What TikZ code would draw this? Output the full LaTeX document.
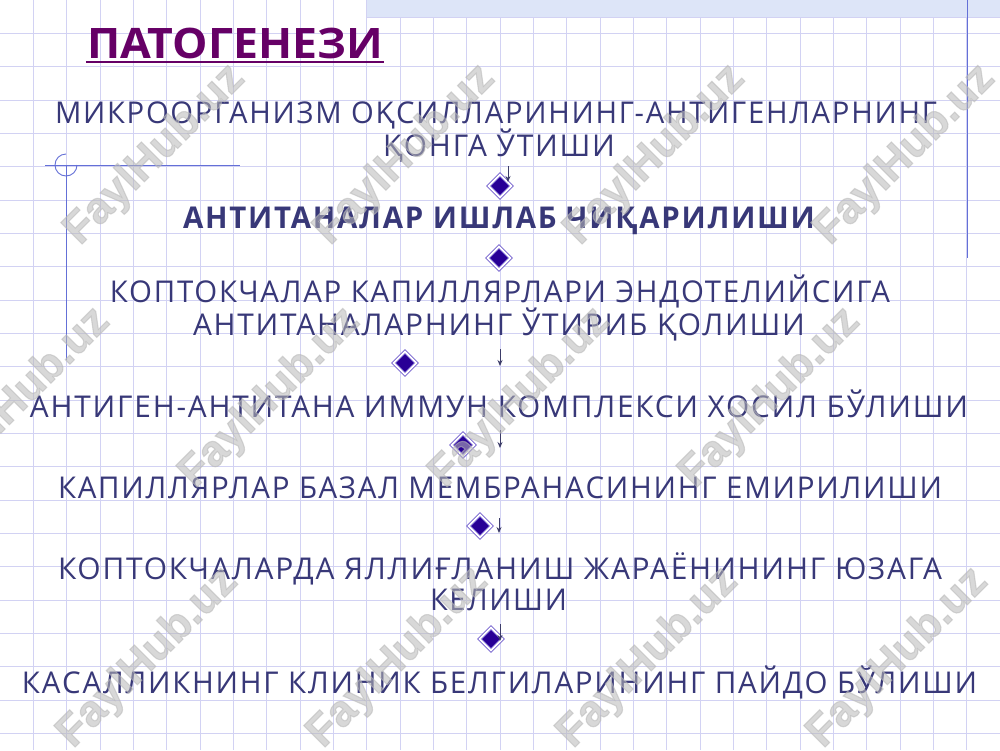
\documentclass[tikz,border=0pt]{standalone}
\usepackage{fontspec}
\usepackage{graphicx}
\usetikzlibrary{arrows.meta,shapes.geometric}
\setmainfont{Open Sans}
\newfontfamily\bodyf{Open Sans}[LetterSpace=6]
\newfontfamily\titf{Open Sans}
\newfontfamily\wmf{Liberation Sans Bold}[FakeBold=2.5]
\definecolor{textc}{RGB}{56,56,120}
\definecolor{titlec}{RGB}{102,0,102}
\definecolor{gridc}{RGB}{210,210,243}
\definecolor{bluel}{RGB}{100,112,215}
\definecolor{bandc}{RGB}{221,229,248}
\definecolor{bulfill}{RGB}{40,0,150}
\definecolor{bulborder}{RGB}{115,95,205}
\definecolor{arrc}{RGB}{60,60,105}
\definecolor{wmc}{RGB}{185,185,185}
\newsavebox\fitbox
\newcommand\fitto[2]{\sbox\fitbox{#2}\scalebox{\fpeval{#1*65536/\number\wd\fitbox}}[1]{\usebox\fitbox}}
\begin{document}
\begin{tikzpicture}[x=1pt,y=-1pt,
  txt/.style={anchor=base, inner sep=0pt, text=textc, font=\bodyf\fontsize{30}{36}\selectfont},
  btxt/.style={txt, font=\bodyf\bfseries\fontsize{30}{36}\selectfont},
  ttl/.style={anchor=base, inner sep=0pt, text=titlec, font=\titf\bfseries\fontsize{42}{48}\selectfont},
  bul/.style={diamond, draw=bulborder, line width=0.9pt, double=white, double distance=1.8pt, fill=bulfill, minimum width=23pt, minimum height=23pt, inner sep=0pt},
  arr/.style={draw=arrc, line width=0.9pt, -{Stealth[length=6pt,width=5pt]}},
  gridl/.style={draw=gridc, line width=1pt},
  decl/.style={draw=bluel, line width=0.9pt},
  wm/.style={text=wmc, opacity=0.55, rotate=45, inner sep=0pt, font=\wmf\fontsize{44}{44}\selectfont}]
\useasboundingbox (0,0) rectangle (1000,750);
\fill[white] (0,0) rectangle (1000,750);
% grid
\foreach \i in {1,...,29} \draw[gridl] (\i*33.3333,0) -- (\i*33.3333,750);
\foreach \j in {1,...,22} \draw[gridl] (0,\j*33.3333) -- (1000,\j*33.3333);
% top band
\fill[bandc] (367,0) rectangle (1000,17);
\draw[gridl] (367,17) -- (1000,17);
% decorative lines
\draw[decl] (967,0) -- (967,258);
\draw[decl] (45,165) -- (240,165);
\draw[decl] (66,165) -- (66,360);
\draw[decl] (66,154) arc[start angle=-90, end angle=-360, radius=11];
% title
\node[ttl] (t0) at (235,58) {\fitto{296}{ПАТОГЕНЕЗИ}};
\draw[titlec, line width=2.7pt] (t0.base west) ++(-1,4) -- ++(298,0);
% steps
\node[txt] (s1a) at (496,123) {\fitto{882}{МИКРООРГАНИЗМ ОҚСИЛЛАРИНИНГ-АНТИГЕНЛАРНИНГ}};
\node[txt] (s1b) at (499,156) {\fitto{232}{ҚОНГА ЎТИШИ}};
\node[btxt] (s2) at (499,228) {\fitto{632}{АНТИТАНАЛАР ИШЛАБ ЧИҚАРИЛИШИ}};
\node[txt] (s3a) at (500,302) {\fitto{780}{КОПТОКЧАЛАР КАПИЛЛЯРЛАРИ ЭНДОТЕЛИЙСИГА}};
\node[txt] (s3b) at (499,335) {\fitto{612}{АНТИТАНАЛАРНИНГ ЎТИРИБ ҚОЛИШИ}};
\node[txt] (s4) at (499,417) {\fitto{938}{АНТИГЕН-АНТИТАНА ИММУН КОМПЛЕКСИ ХОСИЛ БЎЛИШИ}};
\node[txt] (s5) at (500,498) {\fitto{884}{КАПИЛЛЯРЛАР БАЗАЛ МЕМБРАНАСИНИНГ ЕМИРИЛИШИ}};
\node[txt] (s6a) at (500,579) {\fitto{884}{КОПТОКЧАЛАРДА ЯЛЛИҒЛАНИШ ЖАРАЁНИНИНГ ЮЗАГА}};
\node[txt] (s6b) at (498.5,610) {\fitto{137}{КЕЛИШИ}};
\node[txt] (s7) at (499.5,693) {\fitto{955}{КАСАЛЛИКНИНГ КЛИНИК БЕЛГИЛАРИНИНГ ПАЙДО БЎЛИШИ}};
% bullets
\node[bul] (d1) at (500,186) {};
\node[bul] (d2) at (499,258) {};
\node[bul] (d3) at (405,363) {};
\node[bul] (d4) at (463,445) {};
\node[bul] (d5) at (480,526) {};
\node[bul] (d6) at (491,639) {};
% arrows
\coordinate (a1s) at (508,166); \coordinate (a1e) at (508,182);
\coordinate (a3s) at (500,349); \coordinate (a3e) at (500,366);
\coordinate (a4s) at (500,430); \coordinate (a4e) at (500,448);
\coordinate (a5s) at (499,518); \coordinate (a5e) at (499,533);
\coordinate (a6s) at (500,624); \coordinate (a6e) at (500,641);
\draw[arr] (a1s) -- (a1e);
\draw[arr] (a3s) -- (a3e);
\draw[arr] (a4s) -- (a4e);
\draw[arr] (a5s) -- (a5e);
\draw[arr] (a6s) -- (a6e);
% watermarks
\foreach \x in {155,405,655,905} \node[wm] at (\x,155) {FaylHub.uz};
\foreach \x in {20,270,520,770} \node[wm] at (\x,398) {FaylHub.uz};
\foreach \x in {148,398,648,898} \node[wm] at (\x,658) {FaylHub.uz};
\end{tikzpicture}
\end{document}
